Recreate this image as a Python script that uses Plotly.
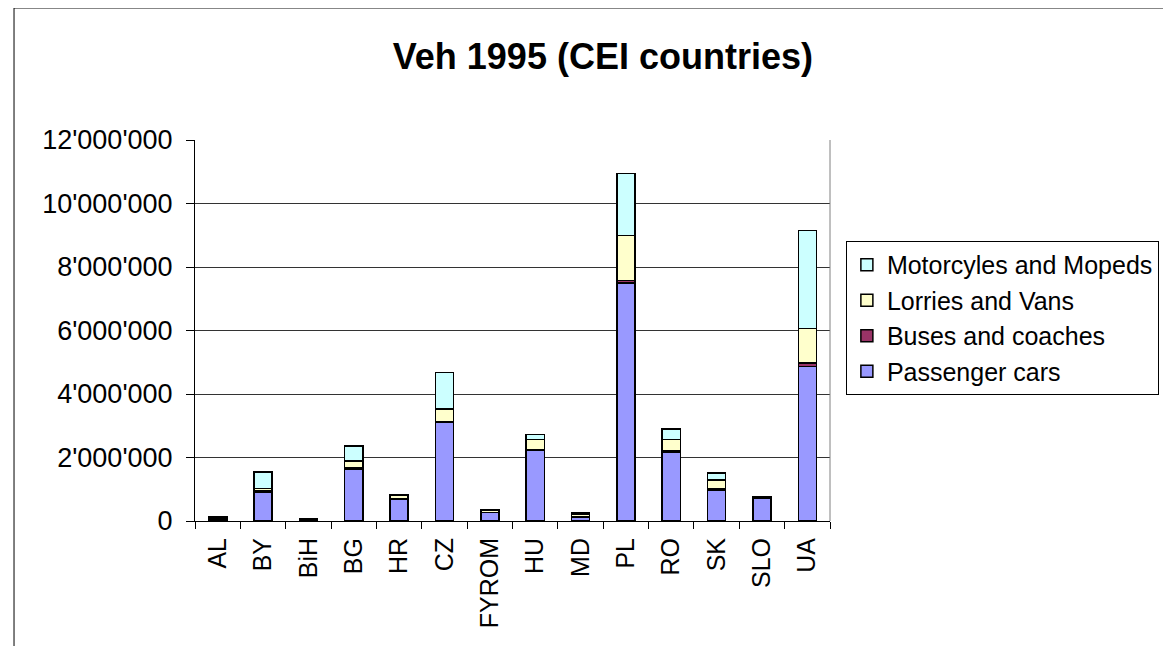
import plotly.graph_objects as go

countries = ["AL", "BY", "BiH", "BG", "HR", "CZ", "FYROM", "HU", "MD", "PL", "RO", "SK", "SLO", "UA"]
passenger_cars = [70000, 920000, 40000, 1630000, 700000, 3100000, 270000, 2220000, 130000, 7500000, 2170000, 960000, 710000, 4870000]
buses_coaches = [5000, 40000, 3000, 40000, 5000, 20000, 3000, 20000, 10000, 80000, 40000, 50000, 3000, 100000]
lorries_vans = [45000, 60000, 20000, 220000, 100000, 400000, 50000, 320000, 80000, 1420000, 360000, 280000, 30000, 1100000]
motorcycles = [15000, 520000, 5000, 480000, 20000, 1160000, 20000, 170000, 40000, 1950000, 330000, 220000, 10000, 3080000]

series = [
    ("Passenger cars", passenger_cars, "#9999FF"),
    ("Buses and coaches", buses_coaches, "#993366"),
    ("Lorries and Vans", lorries_vans, "#FFFFCC"),
    ("Motorcyles and Mopeds", motorcycles, "#CCFFFF"),
]

FONT = "Liberation Sans, Arial, sans-serif"

fig = go.Figure()
for name, vals, color in series:
    fig.add_trace(go.Bar(
        x=countries, y=vals, name=name,
        marker=dict(color=color, line=dict(color="black", width=1.5)),
    ))

fig.update_layout(
    width=1171, height=646,
    barmode="stack", bargap=0.6,
    separators=".'",
    paper_bgcolor="white", plot_bgcolor="white",
    margin=dict(l=187, r=349, t=132, b=133),
    font=dict(family=FONT, color="black"),
    title=dict(text="<b>Veh 1995 (CEI countries)</b>", x=0.508, xref="container", xanchor="center",
               y=0.925, yref="container", yanchor="middle",
               font=dict(size=36, family=FONT, color="black")),
    legend=dict(x=1.025, y=0.735, xanchor="left", yanchor="top",
                traceorder="reversed", bordercolor="black", borderwidth=1,
                font=dict(size=25, family=FONT), bgcolor="white"),
    xaxis=dict(showline=True, linecolor="black", linewidth=1,
               ticks="outside", tickson="boundaries", ticklen=7, tickcolor="black",
               tickangle=-90, ticklabelstandoff=6,
               tickfont=dict(size=25, family=FONT), showgrid=False),
    yaxis=dict(range=[0, 12000000], dtick=2000000, tickformat=",d",
               showline=True, linecolor="black", linewidth=1,
               ticks="outside", ticklen=8, tickcolor="black", ticklabelstandoff=8,
               gridcolor="#333333", gridwidth=1, zeroline=False,
               tickfont=dict(size=27, family=FONT)),
    shapes=[
        dict(type="line", xref="paper", yref="paper", x0=1, x1=1, y0=0, y1=1,
             line=dict(color="#808080", width=1)),
        dict(type="rect", xref="paper", yref="paper", x0=-0.285, x1=1.7, y0=-0.6, y1=1.3465,
             line=dict(color="black", width=1), fillcolor="rgba(0,0,0,0)", layer="below"),
    ],
)

fig.write_html("out.html")
